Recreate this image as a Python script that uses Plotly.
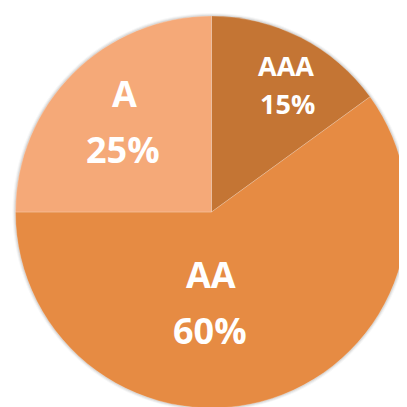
import plotly.graph_objects as go

labels = ["AAA", "AA", "A"]
values = [15, 60, 25]
colors = ["#C47534", "#E68B43", "#F5A978"]
label_sizes = [27, 36, 36]
# label text positions (pixel, in plot coordinates): name line and percent line
name_pos = [(278, 57), (203, 266), (116, 86)]
pct_pos = [(279, 96), (202, 322), (115, 141)]

W = H = 407
CX, CY, R = 203.5, 204, 196  # pie centre / radius in px (from top-left)


def dom(r):
    return dict(x=[(CX - r) / W, (CX + r) / W],
                y=[1 - (CY + r) / H, 1 - (CY - r) / H])


fig = go.Figure()

# faint soft shadow around the pie
for extra, alpha in [(3, 0.03), (2, 0.05), (1, 0.08)]:
    fig.add_trace(go.Pie(
        values=[1], labels=["shadow"], textinfo="none", hoverinfo="skip",
        marker=dict(colors=[f"rgba(0,0,0,{alpha})"], line=dict(width=0)),
        domain=dom(R + extra), showlegend=False, sort=False,
    ))

fig.add_trace(go.Pie(
    labels=labels,
    values=values,
    textinfo="none",
    sort=False,
    direction="clockwise",
    rotation=0,
    marker=dict(colors=colors, line=dict(color="rgba(255,255,255,0.25)", width=0.8)),
    domain=dom(R),
    showlegend=False,
    hoverinfo="label+percent",
))

total = sum(values)
for lab, val, size, (nx, ny), (px, py) in zip(labels, values, label_sizes, name_pos, pct_pos):
    for txt, (x, y) in [(lab, (nx, ny)), (f"{round(100 * val / total)}%", (px, py))]:
        fig.add_annotation(
            x=x / W, y=1 - y / H, xref="paper", yref="paper",
            xanchor="center", yanchor="middle", showarrow=False,
            text=txt,
            font=dict(family="Open Sans", color="white", size=size, weight=700),
        )

fig.update_layout(
    width=W, height=H,
    margin=dict(l=0, r=0, t=0, b=0),
    paper_bgcolor="white",
    plot_bgcolor="white",
)

fig.write_html("out.html")
